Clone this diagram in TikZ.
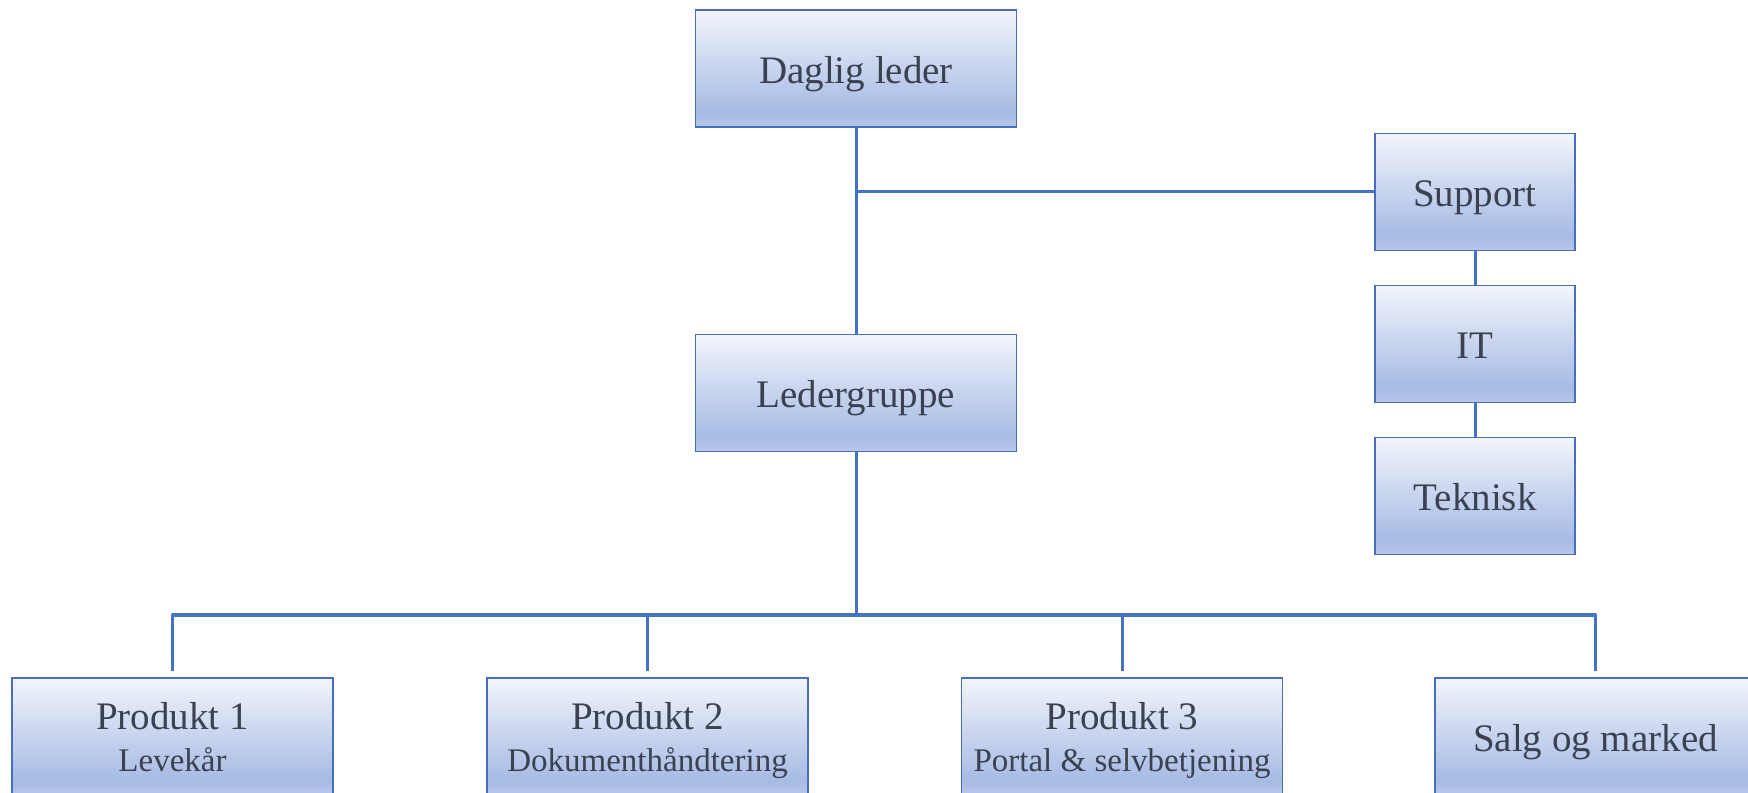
\documentclass[tikz,border=0pt]{standalone}
\usepackage{fontspec}
\setmainfont{Liberation Serif}
\usetikzlibrary{positioning, calc}
\definecolor{boxline}{RGB}{74,110,190}
\definecolor{linkblue}{RGB}{68,114,196}
\definecolor{boxtop}{RGB}{242,245,252}
\definecolor{boxmid}{RGB}{166,186,227}
\definecolor{boxlow}{RGB}{186,201,234}
\definecolor{textgray}{RGB}{58,66,82}
\pgfdeclareverticalshading{boxshade}{100bp}{color(0bp)=(boxlow); color(25bp)=(boxlow); color(31bp)=(boxmid); color(75bp)=(boxtop); color(100bp)=(boxtop)}
\newcommand{\subline}{\fontsize{16.5}{20}\selectfont}
\tikzset{
  orgbox/.style={draw=boxline, line width=0.9pt, shading=boxshade, text=textgray,
    minimum width=160.5pt, minimum height=58.5pt, inner sep=0pt, align=center,
    text height=15pt, text depth=0.4pt, font=\fontsize{19.5}{22}\selectfont},
  smallbox/.style={orgbox, minimum width=100pt},
  prodbox/.style={orgbox, text height=, text depth=-3pt},
  link/.style={draw=linkblue, line width=1.5pt}
}

\begin{document}
\begin{tikzpicture}[x=0.5pt, y=0.5pt]
  \useasboundingbox (0,0) rectangle (1748,792);
  % top of the chart
  \node[orgbox] (leder) at (856,723.5) {Daglig leder};
  \node[orgbox] (gruppe) at (856,399) {Ledergruppe};
  % support column
  \node[smallbox] (support) at (1475,600) {Support};
  \node[smallbox] (it) at (1475,448) {IT};
  \node[smallbox] (teknisk) at (1475,296) {Teknisk};
  % product row
  \node[prodbox] (prod1) at (172.5,55.5) {Produkt 1\\[-1pt]{\subline Levekår}};
  \node[prodbox] (prod2) at (647.5,55.5) {Produkt 2\\[-1pt]{\subline Dokumenthåndtering}};
  \node[prodbox] (prod3) at (1122,55.5) {Produkt 3\\[-1pt]{\subline Portal \& selvbetjening}};
  \node[orgbox] (salg) at (1595.5,55.5) {Salg og marked};
  % connectors
  \coordinate (bar) at (856,177);
  \draw[link] (leder) -- (gruppe);
  \draw[link] (support.west) -- (support.west -| leder.south);
  \draw[link] (support) -- (it);
  \draw[link] (it) -- (teknisk);
  \draw[link] (gruppe) -- (bar);
  \draw[link, line join=round, shorten <=3pt, shorten >=3pt] (prod1.north) |- (bar) -| (salg.north);
  \foreach \n in {prod2,prod3}
    \draw[link, shorten >=3pt] (bar -| \n.north) -- (\n.north);
\end{tikzpicture}
\end{document}
